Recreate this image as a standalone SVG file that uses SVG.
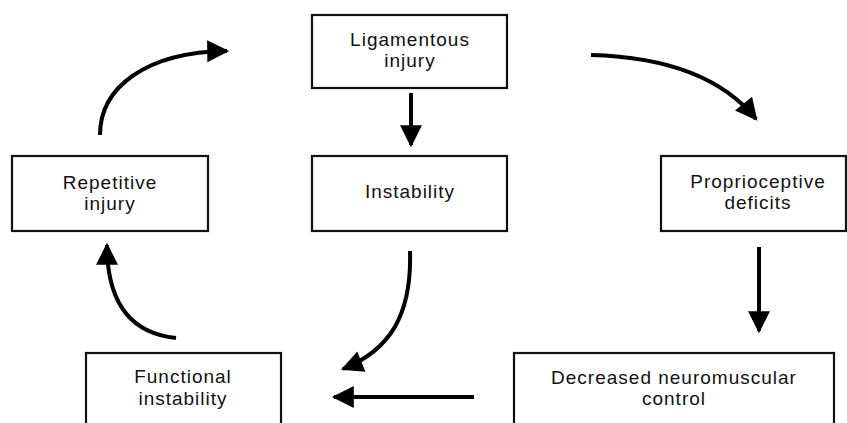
<svg xmlns="http://www.w3.org/2000/svg" width="847" height="423" viewBox="0 0 847 423">
<style>
.box{fill:#fff;stroke:#111;stroke-width:2.2}
.t{font-family:"Liberation Sans",Arial,sans-serif;font-size:19px;letter-spacing:1px;fill:#111;text-anchor:middle}
.c{fill:none;stroke:#000;stroke-width:4}
</style>
<defs>
<marker id="ah" viewBox="0 0 10 10" refX="9" refY="5" markerWidth="6" markerHeight="5.5" markerUnits="strokeWidth" orient="auto">
<path d="M0,0 L10,5 L0,10 Z" fill="#000"/>
</marker>
</defs>
<rect width="847" height="423" fill="#fff"/>
<g id="ligamentous">
<rect class="box" x="312" y="15" width="195" height="73"/>
<text class="t" x="410" y="46">Ligamentous</text>
<text class="t" x="410" y="67">injury</text>
</g>
<g id="instability">
<rect class="box" x="312" y="156" width="195" height="75"/>
<text class="t" x="410" y="198">Instability</text>
</g>
<g id="repetitive">
<rect class="box" x="12" y="156" width="196" height="75"/>
<text class="t" x="110" y="189">Repetitive</text>
<text class="t" x="110" y="210">injury</text>
</g>
<g id="proprioceptive">
<rect class="box" x="661" y="156" width="185" height="75"/>
<text class="t" x="758" y="188">Proprioceptive</text>
<text class="t" x="758" y="209">deficits</text>
</g>
<g id="functional">
<rect class="box" x="86" y="353" width="195" height="80"/>
<text class="t" x="183" y="383">Functional</text>
<text class="t" x="183" y="405">instability</text>
</g>
<g id="decreased">
<rect class="box" x="514" y="353" width="320" height="80"/>
<text class="t" x="674" y="384">Decreased neuromuscular</text>
<text class="t" x="674" y="405">control</text>
</g>
<g id="connectors">
<path class="c" d="M411,93 L411,145" marker-end="url(#ah)"/>
<path class="c" d="M100,135 C100,88 145,52 227,51" marker-end="url(#ah)"/>
<path class="c" d="M591,55 C665,57 722,77 756,119" marker-end="url(#ah)"/>
<path class="c" d="M759,247 L759,331" marker-end="url(#ah)"/>
<path class="c" d="M410,251 C412,315 390,350 343,369" marker-end="url(#ah)"/>
<path class="c" d="M474,397 L334,397" marker-end="url(#ah)"/>
<path class="c" d="M176,338 C128,333 107,300 107,245" marker-end="url(#ah)"/>
</g>
</svg>
